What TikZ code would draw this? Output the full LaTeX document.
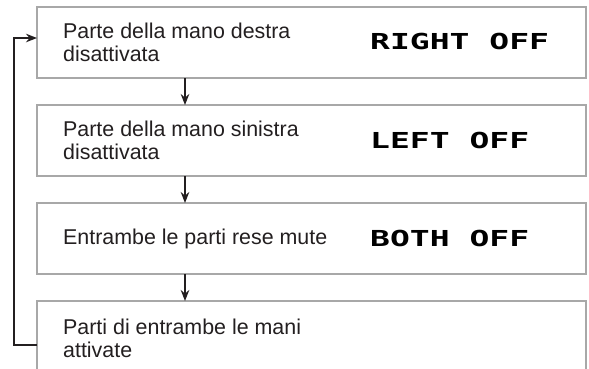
\documentclass[tikz,border=0pt]{standalone}
\usepackage{fontspec}
\usepackage{graphicx}
\setmainfont{Liberation Sans}
\newfontfamily\lcdfont{DejaVu Sans Mono}
\usetikzlibrary{positioning,arrows.meta}
\definecolor{boxgray}{RGB}{168,168,168}
\definecolor{ink}{RGB}{35,31,32}
\newcommand{\lcd}[1]{{\lcdfont\bfseries\scalebox{1.5}[1]{#1}}}
\tikzset{
  modebox/.style={draw=boxgray, line width=2.7pt, fill=white, outer sep=0pt,
    minimum width=549pt, minimum height=71pt, inner sep=0pt},
  desc/.style={inner sep=0pt, align=left, text=ink,
    font={\fontsize{21.4}{23}\selectfont}},
  display/.style={inner sep=0pt, text=black, font={\fontsize{22}{22}\selectfont}},
  flow/.style={draw=ink, line width=1.7pt, -{Stealth[length=11pt,width=8.5pt]}}
}
\begin{document}
\begin{tikzpicture}[x=1pt,y=-1pt]
\path[use as bounding box, clip] (0,0) rectangle (589,368);
\node[modebox] (b1) at (311.5,42.5) {};
\node[modebox, below=27pt of b1] (b2) {};
\node[modebox, below=27pt of b2] (b3) {};
\node[modebox, below=27pt of b3] (b4) {};
% descriptions
\node[desc, right=26pt of b1.west] (t1) {Parte della mano destra\\disattivata};
\node[desc, right=26pt of b2.west] (t2) {Parte della mano sinistra\\disattivata};
\node[desc, right=26pt of b3.west] (t3) {Entrambe le parti rese mute};
\node[desc, right=26pt of b4.west, yshift=-2pt] (t4) {Parti di entrambe le mani\\attivate};
% display texts
\node[display, right=333pt of b1.west, yshift=1pt] (d1) {\lcd{RIGHT OFF}};
\node[display, right=333pt of b2.west] (d2) {\lcd{LEFT OFF}};
\node[display, right=333pt of b3.west] (d3) {\lcd{BOTH OFF}};
% arrows
\draw[flow] ([xshift=148pt]b1.south west) -- ([xshift=148pt]b2.north west);
\draw[flow] ([xshift=148pt]b2.south west) -- ([xshift=148pt]b3.north west);
\draw[flow] ([xshift=148pt]b3.south west) -- ([xshift=148pt]b4.north west);
\draw[flow] ([yshift=-8.5pt]b4.west) -- ++(-23,0) |- ([yshift=4.5pt]b1.west);
\end{tikzpicture}
\end{document}
